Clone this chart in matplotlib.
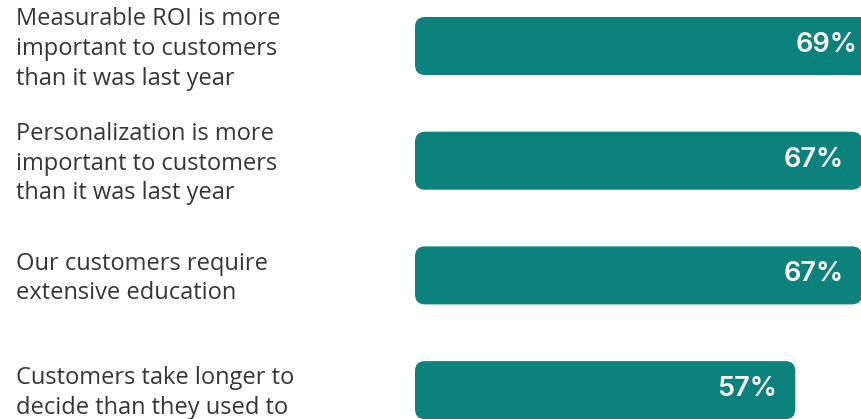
import matplotlib
matplotlib.use("Agg")
import matplotlib.pyplot as plt
from matplotlib.patches import FancyBboxPatch
from matplotlib.transforms import blended_transform_factory, ScaledTranslation

categories = [
    "Measurable ROI is more\nimportant to customers\nthan it was last year",
    "Personalization is more\nimportant to customers\nthan it was last year",
    "Our customers require\nextensive education",
    "Customers take longer to\ndecide than they used to",
]
values = [69, 67, 67, 57]
value_labels = ["69%", "67%", "67%", "57%"]

BAR_COLOR = "#0B827C"
TEXT_COLOR = "#363636"

W, H = 862, 419
fig = plt.figure(figsize=(W / 100, H / 100), dpi=100)
fig.patch.set_facecolor("white")

x0_px = 415
ax = fig.add_axes([x0_px / W, 0, (W - x0_px) / W, 1])
ax.set_xlim(0, 67)
spacing = 114.7
top_c = 46
ax.set_ylim((H - top_c) / spacing, -top_c / spacing)
ax.axis("off")

bar_h = 58 / spacing
ypos = list(range(len(values)))
bars = ax.barh(ypos, values, height=bar_h, color=BAR_COLOR)

px_x = 67 / (W - x0_px)
px_y = 1 / spacing
radius_px = 10
for b in bars:
    x, y = b.get_x(), b.get_y()
    w, h = b.get_width(), b.get_height()
    b.set_visible(False)
    p = FancyBboxPatch((x, y), w, h,
                       boxstyle=f"round,pad=0,rounding_size={radius_px * px_x}",
                       mutation_aspect=px_y / px_x,
                       facecolor=BAR_COLOR, edgecolor="none", clip_on=False)
    ax.add_patch(p)

for y, v, lab in zip(ypos, values, value_labels):
    ax.annotate(lab, xy=(v, y), xytext=(-18, 1), textcoords="offset pixels",
                ha="right", va="center", color="white", fontsize=19.5,
                fontfamily="Inter", fontweight="semibold", clip_on=False,
                annotation_clip=False)

trans = blended_transform_factory(fig.transFigure, ax.transData) + \
    ScaledTranslation(0, -3 / 100, fig.dpi_scale_trans)
for y, cat in zip(ypos, categories):
    fig.text(16 / W, y, cat, transform=trans, ha="left", va="center",
             fontsize=17, color=TEXT_COLOR, fontfamily="Open Sans",
             linespacing=1.32)

fig.savefig("out.png", dpi=100, facecolor="white")
